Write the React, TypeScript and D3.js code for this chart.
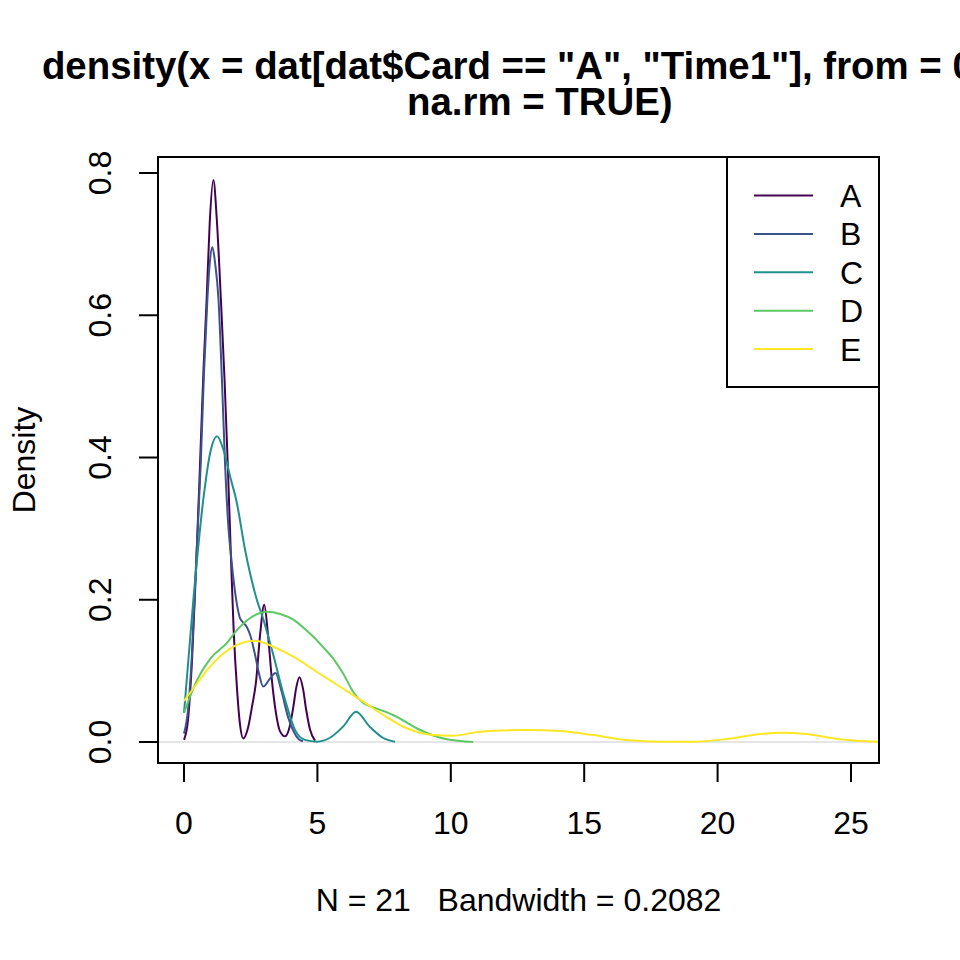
import React from "react";
import * as d3 from "d3";

const categories = ["A", "B", "C", "D", "E"];
const colors = ["#440154", "#3B528B", "#21908C", "#5DC863", "#FDE725"];

const seriesA: [number, number][] = [
  [0, 0.003], [0.15, 0.031], [0.3, 0.115], [0.45, 0.242], [0.6, 0.39], [0.73, 0.523],
  [0.85, 0.624], [0.96, 0.727], [1.1, 0.79], [1.23, 0.734], [1.38, 0.624], [1.52, 0.509],
  [1.64, 0.39], [1.75, 0.27], [1.86, 0.158], [1.99, 0.073], [2.1, 0.024], [2.22, 0.005],
  [2.4, 0.02], [2.55, 0.05], [2.7, 0.085], [2.85, 0.15], [3.006, 0.193],
  [3.15, 0.15], [3.3, 0.085], [3.45, 0.04], [3.6, 0.015], [3.79, 0.008], [3.95, 0.02],
  [4.1, 0.05], [4.2, 0.075], [4.33, 0.091], [4.46, 0.075], [4.58, 0.045], [4.72, 0.018],
  [4.91, 0.002],
];
const seriesB: [number, number][] = [
  [0, 0.012], [0.15, 0.045], [0.3, 0.125], [0.45, 0.25], [0.626, 0.39], [0.75, 0.52],
  [0.88, 0.625], [0.97, 0.675], [1.06, 0.696], [1.17, 0.672], [1.29, 0.624], [1.42, 0.51],
  [1.54, 0.39], [1.65, 0.31], [1.78, 0.255], [1.9, 0.215], [2.0, 0.19], [2.1, 0.174],
  [2.22, 0.168], [2.35, 0.162], [2.5, 0.148], [2.65, 0.125], [2.8, 0.098], [2.97, 0.078],
  [3.2, 0.088], [3.43, 0.097], [3.65, 0.072], [3.9, 0.035], [4.1, 0.0155], [4.3, 0.004],
  [4.46, 0.001],
];
const seriesC: [number, number][] = [
  [0, 0.041], [0.35, 0.2], [0.72, 0.34], [1.0, 0.41], [1.24, 0.43], [1.5, 0.408],
  [1.75, 0.37], [1.96, 0.34], [2.29, 0.27], [2.73, 0.2], [2.96, 0.174], [3.3, 0.129],
  [3.79, 0.059], [4.16, 0.017], [4.53, 0.003], [4.97, 0.0005], [5.47, 0.006], [5.97, 0.022],
  [6.45, 0.0426], [6.95, 0.022], [7.45, 0.006], [7.91, 0.0005],
];
const seriesD: [number, number][] = [
  [0, 0.041], [0.5, 0.088], [1.0, 0.118], [1.6, 0.139], [2.0, 0.158], [2.47, 0.174],
  [3.13, 0.183], [3.6, 0.18], [4.1, 0.172], [4.5, 0.16], [4.85, 0.148], [5.2, 0.134],
  [5.6, 0.117], [5.97, 0.096], [6.35, 0.07], [6.72, 0.0548], [7.1, 0.0488], [7.84, 0.038],
  [8.85, 0.0169], [9.85, 0.0038], [10.84, 0.0],
];
const seriesE: [number, number][] = [
  [0, 0.0576], [0.5, 0.083], [0.975, 0.1059], [1.85, 0.134], [2.66, 0.1424], [3.35, 0.134],
  [4.1, 0.1199], [4.97, 0.0988], [5.85, 0.0777], [6.72, 0.0567], [7.47, 0.038],
  [8.35, 0.0193], [9.34, 0.0098], [10.09, 0.0089], [11.09, 0.0145], [12.84, 0.0169],
  [14.09, 0.0155], [15.34, 0.0098], [16.59, 0.0028], [17.84, 0.0004], [19.09, 0.0004],
  [20.34, 0.0042], [21.59, 0.0112], [22.34, 0.0131], [23.34, 0.0112], [24.59, 0.0038],
  [26.02, 0.0004], [27.0, 0.0001],
];
const allSeries = [seriesA, seriesB, seriesC, seriesD, seriesE];

const xTicks = [0, 5, 10, 15, 20, 25];
const yTicks = [0, 0.2, 0.4, 0.6, 0.8];
const yTickLabels = ["0.0", "0.2", "0.4", "0.6", "0.8"];

const titleLines = [
  'density(x = dat[dat$Card == "A", "Time1"], from = 0, ',
  "    na.rm = TRUE)",
];
const xLabel = "N = 21   Bandwidth = 0.2082";
const yLabel = "Density";

export default function App() {
  const W = 960, H = 960;
  const left = 158, right = 879, top = 157, bottom = 763;
  const xs = d3.scaleLinear().domain([-0.975, 26.05]).range([left, right]);
  const ys = d3.scaleLinear().domain([-0.0295, 0.8225]).range([bottom, top]);
  const line = d3
    .line<[number, number]>()
    .x((d) => xs(d[0]))
    .y((d) => ys(d[1]))
    .curve(d3.curveMonotoneX);
  const font = "'Liberation Sans', Arial, Helvetica, sans-serif";
  const fs = 32;
  const cx = (left + right) / 2;

  const legL = 727, legT = 157, legR = 879, legB = 387;
  const legRow0 = 195.5, legStep = 38.4;

  return (
    <svg
      width={W}
      height={H}
      style={{ position: "absolute", left: 0, top: 0, background: "#fff" }}
      fontFamily={font}
    >
      <rect x={0} y={0} width={W} height={H} fill="#fff" />
      <defs>
        <clipPath id="plotclip">
          <rect x={left} y={top} width={right - left} height={bottom - top} />
        </clipPath>
      </defs>
      {titleLines.map((t, i) => (
        <text
          key={i}
          x={cx}
          y={79 + i * 36}
          textAnchor="middle"
          fontWeight="bold"
          fontSize={38.4}
          style={{ whiteSpace: "pre" }}
        >
          {t}
        </text>
      ))}
      <line x1={left} x2={right} y1={ys(0)} y2={ys(0)} stroke="#cccccc" strokeWidth={1.2} />
      <g clipPath="url(#plotclip)">
        {allSeries.map((s, i) => (
          <path key={i} d={line(s) || ""} fill="none" stroke={colors[i]} strokeWidth={2} />
        ))}
      </g>
      <rect x={left} y={top} width={right - left} height={bottom - top} fill="none" stroke="#000" strokeWidth={2} />
      <line x1={xs(0)} x2={xs(25)} y1={bottom} y2={bottom} stroke="#000" strokeWidth={2} />
      {xTicks.map((t) => (
        <g key={t}>
          <line x1={xs(t)} x2={xs(t)} y1={bottom} y2={bottom + 19} stroke="#000" strokeWidth={2} />
          <text x={xs(t)} y={834} textAnchor="middle" fontSize={fs}>
            {t}
          </text>
        </g>
      ))}
      {yTicks.map((t, i) => (
        <g key={t}>
          <line x1={left - 19} x2={left} y1={ys(t)} y2={ys(t)} stroke="#000" strokeWidth={2} />
          <text
            transform={`translate(111, ${ys(t)}) rotate(-90)`}
            textAnchor="middle"
            fontSize={fs}
          >
            {yTickLabels[i]}
          </text>
        </g>
      ))}
      <text x={cx} y={911} textAnchor="middle" fontSize={fs} style={{ whiteSpace: "pre" }}>
        {xLabel}
      </text>
      <text transform={`translate(35, ${(top + bottom) / 2}) rotate(-90)`} textAnchor="middle" fontSize={fs}>
        {yLabel}
      </text>
      <rect x={legL} y={legT} width={legR - legL} height={legB - legT} fill="#fff" stroke="#000" strokeWidth={2} />
      {categories.map((c, i) => (
        <g key={c}>
          <line
            x1={754}
            x2={813}
            y1={legRow0 + i * legStep}
            y2={legRow0 + i * legStep}
            stroke={colors[i]}
            strokeWidth={2}
          />
          <text x={840} y={legRow0 + i * legStep + 11.5} fontSize={fs}>
            {c}
          </text>
        </g>
      ))}
    </svg>
  );
}
